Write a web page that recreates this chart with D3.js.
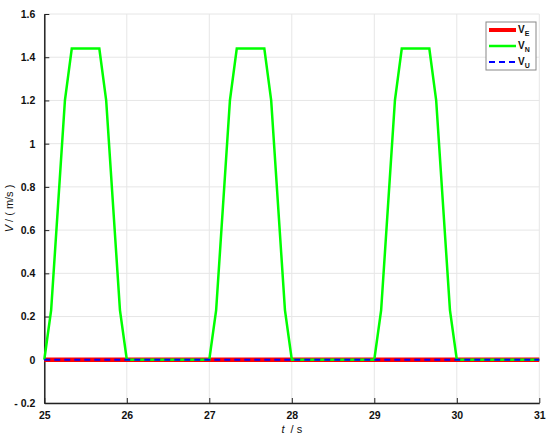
<!doctype html>
<html>
<head>
    <meta charset="utf-8">
    <title>Velocity</title>
    <script src="https://cdn.jsdelivr.net/npm/d3@7"></script>
    <style>
        html, body { margin: 0; padding: 0; background: #fff; }
        svg { display: block; font-family: "Liberation Sans", Arial, sans-serif; }
    </style>
</head>
<body>
<div id="chart"></div>
<script>
// time samples (s) and velocity values (m/s)
var timeE = [25, 31];
var valE = [0, 0];

var timeN = [25, 25.083, 25.25, 25.333, 25.667, 25.75, 25.917, 26,
             27, 27.083, 27.25, 27.333, 27.667, 27.75, 27.917, 28,
             29, 29.083, 29.25, 29.333, 29.667, 29.75, 29.917, 30, 31];
var valN = [0, 0.23, 1.2, 1.44, 1.44, 1.2, 0.23, 0,
            0, 0.23, 1.2, 1.44, 1.44, 1.2, 0.23, 0,
            0, 0.23, 1.2, 1.44, 1.44, 1.2, 0.23, 0, 0];

var timeU = [25, 31];
var valU = [0, 0];

var xTicks = [25, 26, 27, 28, 29, 30, 31];
var yTicks = [-0.2, 0, 0.2, 0.4, 0.6, 0.8, 1, 1.2, 1.4, 1.6];

var seriesNames = ["E", "N", "U"];
var seriesColors = ["#ff0000", "#00ff00", "#0000ff"];

var W = 550, H = 442;
var pLeft = 44.3, pRight = 539.3, pTop = 14, pBottom = 403;

var svg = d3.select("#chart").append("svg")
    .attr("width", W)
    .attr("height", H);

var x = d3.scaleLinear().domain([25, 31]).range([pLeft, pRight]);
var y = d3.scaleLinear().domain([-0.2, 1.6]).range([pBottom, pTop]);

// grid
var grid = svg.append("g");
grid.selectAll("line.gx").data(xTicks).enter().append("line")
    .attr("x1", function (d) { return x(d); })
    .attr("x2", function (d) { return x(d); })
    .attr("y1", pTop).attr("y2", pBottom)
    .style("stroke", "#e6e6e6").style("stroke-width", 1);
grid.selectAll("line.gy").data(yTicks).enter().append("line")
    .attr("y1", function (d) { return y(d); })
    .attr("y2", function (d) { return y(d); })
    .attr("x1", pLeft).attr("x2", pRight)
    .style("stroke", "#e6e6e6").style("stroke-width", 1);

// axes
var fmtY = function (d) {
    if (d < 0) return "- " + Math.abs(d);
    return String(+d.toFixed(1));
};
var xAxis = svg.append("g")
    .attr("transform", "translate(0," + pBottom + ")")
    .call(d3.axisBottom(x).tickValues(xTicks).tickSizeInner(-5).tickSizeOuter(0).tickPadding(8)
        .tickFormat(function (d) { return String(d); }));
var yAxis = svg.append("g")
    .attr("transform", "translate(" + pLeft + ",0)")
    .call(d3.axisLeft(y).tickValues(yTicks).tickSizeInner(-5).tickSizeOuter(0).tickPadding(9).tickFormat(fmtY));

[xAxis, yAxis].forEach(function (a) {
    a.select(".domain").style("stroke", "#222").style("stroke-width", 1.5);
    a.selectAll(".tick line").style("stroke", "#222").style("stroke-width", 1);
    a.selectAll(".tick text")
        .style("font-family", "'Liberation Sans', Arial, sans-serif")
        .style("font-size", "10.5px")
        .style("font-weight", "bold")
        .style("fill", "#111");
});
xAxis.selectAll(".tick text").attr("dy", "0.8em");

// lines
var line = d3.line()
    .x(function (d) { return x(d[0]); })
    .y(function (d) { return y(d[1]); });

svg.append("path")
    .datum(d3.zip(timeE, valE))
    .attr("d", line)
    .style("fill", "none").style("stroke", seriesColors[0]).style("stroke-width", 4.5);

svg.append("path")
    .datum(d3.zip(timeN, valN))
    .attr("d", line)
    .style("fill", "none").style("stroke", seriesColors[1]).style("stroke-width", 2.5)
    .style("stroke-linejoin", "miter");

svg.append("path")
    .datum(d3.zip(timeU, valU))
    .attr("d", line)
    .style("fill", "none").style("stroke", seriesColors[2]).style("stroke-width", 2)
    .style("stroke-dasharray", "6,4");

// axis titles
var yt = svg.append("text")
    .attr("transform", "translate(13," + (pTop + pBottom) / 2 + ") rotate(-90)")
    .attr("text-anchor", "middle")
    .style("font-size", "11px")
    .style("fill", "#111");
yt.append("tspan").text("V").style("font-style", "italic");
yt.append("tspan").text(" / ( m/s )");

var xt = svg.append("text")
    .attr("x", x(28))
    .attr("y", 433)
    .attr("text-anchor", "middle")
    .style("font-size", "11px")
    .style("fill", "#111")
    .attr("xml:space", "preserve");
xt.append("tspan").text("t").style("font-style", "italic");
xt.append("tspan").text("  / s");

// legend
var lg = svg.append("g").attr("transform", "translate(486,22)");
lg.append("rect")
    .attr("width", 50).attr("height", 48)
    .style("fill", "#fff").style("stroke", "#888").style("stroke-width", 1);
var widths = [4, 2.5, 2];
var dashes = [null, null, "6,4"];
seriesNames.forEach(function (n, i) {
    var yy = 8 + i * 16;
    lg.append("line")
        .attr("x1", 3).attr("x2", 30)
        .attr("y1", yy).attr("y2", yy)
        .style("stroke", seriesColors[i])
        .style("stroke-width", widths[i])
        .style("stroke-dasharray", dashes[i]);
    var t = lg.append("text")
        .attr("x", 32).attr("y", yy + 3)
        .style("font-size", "10px")
        .style("font-weight", "bold")
        .style("fill", "#111");
    t.append("tspan").text("V");
    t.append("tspan").text(n).attr("dy", 3).style("font-size", "7px");
});
</script>
</body>
</html>
